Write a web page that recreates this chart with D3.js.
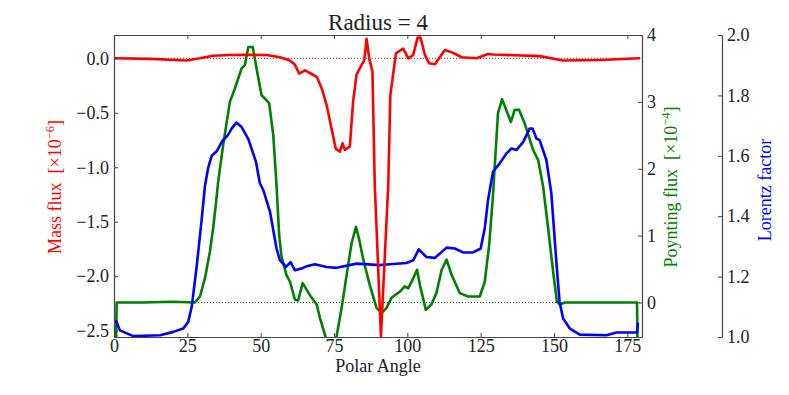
<!DOCTYPE html>
<html>
<head>
<meta charset="utf-8">
<script src="https://cdn.jsdelivr.net/npm/d3@7"></script>
<style>
  body { margin: 0; background: #fff; }
  text { font-family: "Liberation Serif", "DejaVu Serif", serif; }
</style>
</head>
<body>
<div id="mainGraphic"></div>
<script>
let svgWidth = 789
let svgHeight = 395

// polar angle samples + values
let massAngle = [0, 12.3, 24.8, 29.3, 33.7, 39.5, 45.2, 52, 56.6, 60,
  61.7, 63.1, 65.1, 67.4, 69.1, 70.8, 72.5, 74.2, 75.6, 77,
  77.9, 78.7, 80.4, 81.5, 82.7, 84.4, 85.3, 86.1, 87, 88.1,
  88.9, 91, 93.5, 94.2, 96.1, 98.6, 100.3, 102, 103.5, 104.5,
  106, 107.4, 109.4, 112.8, 115.6, 118.5, 123.6, 127.5, 129.2, 145.1,
  153.1, 165.6, 179]
let massFlux = [0.0, -0.005, -0.02, 0.0, 0.024, 0.03, 0.033, 0.03, 0.01, -0.02,
  -0.06, -0.14, -0.11, -0.144, -0.17, -0.275, -0.43, -0.65, -0.83, -0.857,
  -0.78, -0.84, -0.81, -0.40, -0.15, -0.06, -0.02, 0.18, 0.0, -0.12,
  -1.16, -2.55, -1.16, -0.34, 0.046, 0.09, 0.0, 0.03, 0.19, 0.19,
  0.03, -0.046, -0.055, 0.076, 0.05, 0.01, 0.0, 0.04, 0.035, 0.02,
  -0.02, -0.015, 0.0]

let poyAngle = [0.6, 0.9, 10, 20, 27.6, 29.3, 31.0, 32.7, 33.8, 34.8,
  35.5, 37.2, 39.5, 41.2, 43.5, 44.6, 45.8, 47.3, 48.6, 50.3,
  52.9, 54.3, 55.4, 56.3, 57.1, 58.8, 60, 61.7, 62.8, 64.3,
  66.8, 69.1, 70.2, 71.9, 73.6, 74.6, 75.9, 77.6, 79.3, 81,
  82.5, 83.6, 84.9, 87.2, 89.5, 91.2, 92.9, 94.6, 97.4, 99.1,
  100.3, 102, 103.3, 104.3, 106.3, 108.2, 109.9, 111.7, 113.4, 115.1,
  117.9, 120.7, 124.7, 126.4, 127.9, 129.2, 130.9, 132.3, 135.3, 136.6,
  138.1, 140, 142.9, 144.6, 146.3, 148, 149.7, 151, 152, 153.7,
  170, 178.3, 178.6]
let poyFlux = [-1.0, 0.0, 0.0, 0.01, 0.0, 0.09, 0.36, 0.76, 1.11, 1.5,
  1.8, 2.35, 3.0, 3.2, 3.5, 3.55, 3.82, 3.82, 3.5, 3.1,
  2.98, 2.5, 1.76, 1.01, 0.69, 0.41, 0.31, 0.04, 0.03, 0.29,
  0.11, -0.03, -0.23, -0.48, -0.75, -0.75, -0.5, -0.08, 0.41, 0.89,
  1.13, 0.94, 0.66, 0.26, -0.08, -0.16, -0.08, 0.07, 0.16, 0.24,
  0.21, 0.36, 0.49, 0.26, -0.11, -0.03, 0.14, 0.49, 0.64, 0.41,
  0.14, 0.09, 0.09, 0.31, 0.86, 1.6, 2.83, 3.04, 2.7, 2.88,
  2.88, 2.68, 2.28, 2.13, 1.73, 1.11, 0.46, 0.01, -0.03, 0.0,
  0.0, 0.0, -1.0]

let lorAngle = [0.8, 2.0, 6.6, 15.7, 20.2, 23.6, 25.3, 26.5, 28.2, 29.9,
  31.0, 32.1, 33.3, 35.0, 37.0, 38.7, 40.1, 41.7, 43.5, 45.8,
  48.4, 49.7, 50.9, 53.2, 55.4, 56.6, 58.6, 60.2, 61.7, 63.9,
  65.7, 68.5, 72.5, 75.9, 82.7, 90.6, 92.9, 99.7, 102, 103.9,
  106.5, 109.4, 113.4, 116.2, 119, 122.4, 125, 126.4, 127.5, 129.2,
  131.5, 133.8, 135.5, 137.2, 139.5, 141.7, 142.7, 144, 145.1, 147.4,
  149.1, 150.8, 151.9, 153.1, 155.4, 158.8, 167.9, 171.3, 178.3, 178.6]
let lorFactor = [1.052, 1.022, 1.003, 1.006, 1.017, 1.028, 1.05, 1.10, 1.235, 1.39,
  1.50, 1.56, 1.60, 1.615, 1.65, 1.667, 1.69, 1.71, 1.695, 1.655,
  1.58, 1.51, 1.486, 1.414, 1.293, 1.254, 1.232, 1.248, 1.221, 1.227,
  1.234, 1.241, 1.232, 1.229, 1.243, 1.238, 1.24, 1.245, 1.254, 1.29,
  1.265, 1.262, 1.296, 1.293, 1.28, 1.28, 1.293, 1.36, 1.453, 1.547,
  1.575, 1.608, 1.624, 1.619, 1.646, 1.69, 1.69, 1.657, 1.652, 1.586,
  1.475, 1.249, 1.116, 1.061, 1.028, 1.008, 1.006, 1.015, 1.015, 1.044]

let angleTicks = [0, 25, 50, 75, 100, 125, 150, 175]
let massTicks = [-2.5, -2.0, -1.5, -1.0, -0.5, 0.0]
let poyTicks = [0, 1, 2, 3, 4]
let lorTicks = [1.0, 1.2, 1.4, 1.6, 1.8, 2.0]

renderChart();

function renderChart(){
  let left = 114, right = 642, top = 35, bottom = 337
  let spine = "#444"

  let graphic = d3.select("#mainGraphic")
    .append("svg")
      .attr("width", svgWidth)
      .attr("height", svgHeight)

  let x = d3.scaleLinear().domain([0, 180]).range([left, right])
  let yMass = d3.scaleLinear().domain([-2.558, 0.214]).range([bottom, top])
  let yPoy = d3.scaleLinear().domain([-0.516, 4]).range([bottom, top])
  let yLor = d3.scaleLinear().domain([1.0, 2.0]).range([bottom, top])

  graphic.append("clipPath").attr("id", "plotClip")
    .append("rect")
      .attr("x", left).attr("y", top)
      .attr("width", right - left).attr("height", bottom - top)

  let plot = graphic.append("g").attr("clip-path", "url(#plotClip)")

  // zero reference lines
  plot.append("line")
    .attr("x1", left).attr("x2", right)
    .attr("y1", yPoy(0)).attr("y2", yPoy(0))
    .attr("stroke", "#008000").attr("stroke-width", 1)
    .attr("stroke-dasharray", "1,2")
  plot.append("line")
    .attr("x1", left).attr("x2", right)
    .attr("y1", yMass(0)).attr("y2", yMass(0))
    .attr("stroke", "#ff0000").attr("stroke-width", 1)
    .attr("stroke-dasharray", "1,2")

  function drawSeries(angles, values, yScale, color){
    let line = d3.line()
      .x((d, i) => x(angles[i]))
      .y(d => yScale(d))
    plot.append("path")
      .datum(values)
      .attr("d", line)
      .attr("fill", "none")
      .attr("stroke", color)
      .attr("stroke-width", 2.6)
      .attr("stroke-linejoin", "round")
      .attr("stroke-linecap", "round")
  }
  drawSeries(poyAngle, poyFlux, yPoy, "#008000")
  drawSeries(lorAngle, lorFactor, yLor, "#0000ff")
  drawSeries(massAngle, massFlux, yMass, "#ff0000")

  // axes
  let bottomAxis = graphic.append("g")
    .attr("transform", "translate(0," + bottom + ")")
    .call(d3.axisBottom(x).tickValues(angleTicks).tickFormat(d3.format("d"))
      .tickSizeInner(-4).tickSizeOuter(0).tickPadding(2))
  let topAxis = graphic.append("g")
    .attr("transform", "translate(0," + top + ")")
    .call(d3.axisTop(x).tickValues(angleTicks).tickFormat("")
      .tickSizeInner(-4).tickSizeOuter(0))
  let leftAxis = graphic.append("g")
    .attr("transform", "translate(" + left + ",0)")
    .call(d3.axisLeft(yMass).tickValues(massTicks).tickFormat(d3.format(".1f"))
      .tickSizeInner(-4).tickSizeOuter(0).tickPadding(5))
  let poyAxis = graphic.append("g")
    .attr("transform", "translate(" + right + ",0)")
    .call(d3.axisRight(yPoy).tickValues(poyTicks).tickFormat(d3.format("d"))
      .tickSizeInner(-4).tickSizeOuter(0).tickPadding(5))
  let lorAxis = graphic.append("g")
    .attr("transform", "translate(722,0)")
    .call(d3.axisRight(yLor).tickValues(lorTicks).tickFormat(d3.format(".1f"))
      .tickSizeInner(-4).tickSizeOuter(0).tickPadding(5))

  graphic.selectAll(".domain").attr("stroke", spine).attr("stroke-width", 1.2)
  graphic.selectAll(".tick line").attr("stroke", spine)
  graphic.selectAll(".tick text")
    .attr("font-size", 18)
    .attr("font-family", "Liberation Serif, serif")
    .attr("fill", "#222")

  // title and axis labels
  graphic.append("text")
    .attr("x", (left + right) / 2).attr("y", 30)
    .attr("text-anchor", "middle")
    .attr("font-size", 23).attr("fill", "#222")
    .text("Radius = 4")

  graphic.append("text")
    .attr("x", (left + right) / 2).attr("y", 372)
    .attr("text-anchor", "middle")
    .attr("font-size", 18).attr("fill", "#222")
    .text("Polar Angle")

  function sideLabel(xPos, yPos, name, power, color){
    let t = graphic.append("text")
      .attr("transform", "translate(" + xPos + "," + yPos + ") rotate(-90)")
      .attr("text-anchor", "middle")
      .attr("font-size", 18)
      .attr("fill", color)
      .attr("xml:space", "preserve")
    t.append("tspan").text(name)
    if (power) {
      t.append("tspan").text("  [\u00d710")
      t.append("tspan").attr("dy", -7).attr("font-size", 12.5).text(power)
      t.append("tspan").attr("dy", 7).text("]")
    }
  }
  sideLabel(61, 187, "Mass flux", "\u22126", "#ff0000")
  sideLabel(677, 187, "Poynting flux", "\u22124", "#008000")
  sideLabel(771, 190, "Lorentz factor", null, "#0000ff")
}
</script>
</body>
</html>
